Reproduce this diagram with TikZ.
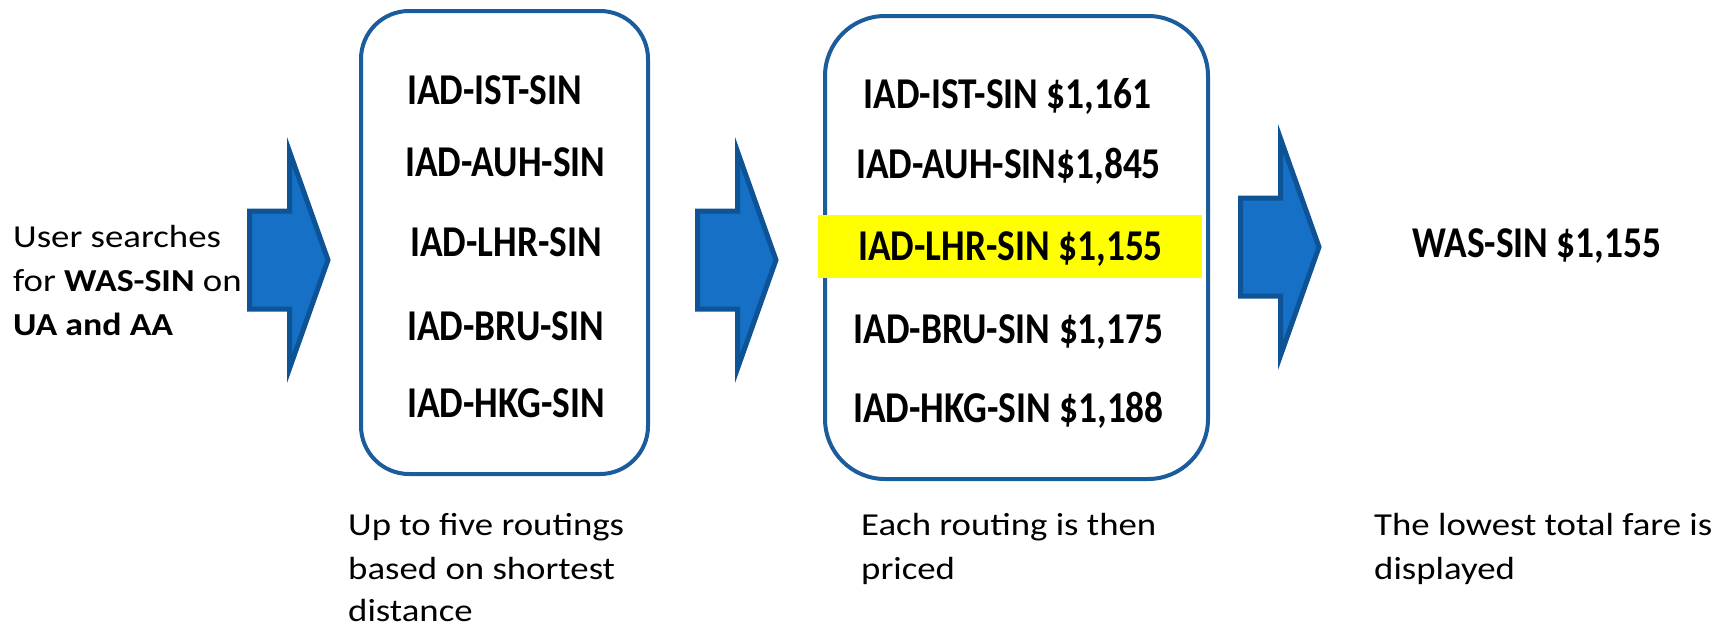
\documentclass[tikz,border=0pt]{standalone}
\usepackage{fontspec}
\setmainfont{Carlito}[FakeStretch=1.15, BoldFeatures={FakeStretch=1.12}]
\newfontfamily\routefont{Carlito}[FakeStretch=0.85]
\usetikzlibrary{positioning}

\definecolor{arrowblue}{HTML}{1570C6}
\definecolor{edgeblue}{HTML}{0E5396}
\definecolor{boxblue}{HTML}{1B5C9C}
\definecolor{hlyellow}{HTML}{FFFF00}

\tikzset{
  pics/blockarrow/.style={code={
      \draw[fill=arrowblue, draw=edgeblue, line width=5pt]
        (0,-49) -- (40,-49) -- (40,-108.5) -- (78.5,0) -- (40,108.5) -- (40,49) -- (0,49) -- cycle;
  }}
}

\begin{document}
\begin{tikzpicture}[x=1pt,y=-1pt,
    textline/.style={anchor=base west, inner sep=0pt, font=\fontsize{32}{44}\selectfont},
    route/.style={inner sep=0pt, font=\routefont\bfseries\fontsize{44}{50}\selectfont},
    routebox/.style={draw=boxblue, line width=4pt, fill=none}]

  \useasboundingbox (0,0) rectangle (1729,627);

  % Search request
  \node[textline] (ask1) at (13,247) {User searches};
  \node[textline] (ask2) at (13,291) {for \textbf{WAS-SIN} on};
  \node[textline] (ask3) at (13,335) {\textbf{UA and AA}};

  % Arrows
  \pic at (249.5,260) {blockarrow};
  \pic at (697.5,260) {blockarrow};
  \pic at (1240.5,247) {blockarrow};

  % Shortest routings
  \node[routebox, minimum width=287, minimum height=463, rounded corners=48] (short) at (504.5,242.5) {};
  \node[route, anchor=base west] (s1) at (407,104) {IAD-IST-SIN};
  \node[route, anchor=base west] (s2) at (405,176) {IAD-AUH-SIN};
  \node[route, anchor=base west] (s3) at (410,256) {IAD-LHR-SIN};
  \node[route, anchor=base west] (s4) at (407,340) {IAD-BRU-SIN};
  \node[route, anchor=base west] (s5) at (407,417) {IAD-HKG-SIN};

  % Priced routings
  \node[routebox, minimum width=383, minimum height=463, rounded corners=60] (priced) at (1016.5,247.5) {};
  \node[fill=hlyellow, inner sep=0pt, minimum width=384, minimum height=63] (best) at (1010,246.5) {};
  \node[route, anchor=base] (p1) at (1007.5,108) {IAD-IST-SIN \$1,161};
  \node[route, anchor=base] (p2) at (1008.5,178) {IAD-AUH-SIN\$1,845};
  \node[route, anchor=base] (p3) at (1010.5,260) {IAD-LHR-SIN \$1,155};
  \node[route, anchor=base] (p4) at (1008.5,343) {IAD-BRU-SIN \$1,175};
  \node[route, anchor=base] (p5) at (1008.5,422) {IAD-HKG-SIN \$1,188};

  % Result
  \node[route, anchor=base west] (result) at (1412,257) {WAS-SIN \$1,155};

  % Captions
  \node[textline] (c1a) at (348,535) {Up to five routings};
  \node[textline] (c1b) at (348,579) {based on shortest};
  \node[textline] (c1c) at (348,621) {distance};
  \node[textline] (c2a) at (861,535) {Each routing is then};
  \node[textline] (c2b) at (861,579) {priced};
  \node[textline] (c3a) at (1374,535) {The lowest total fare is};
  \node[textline] (c3b) at (1374,579) {displayed};

\end{tikzpicture}
\end{document}
